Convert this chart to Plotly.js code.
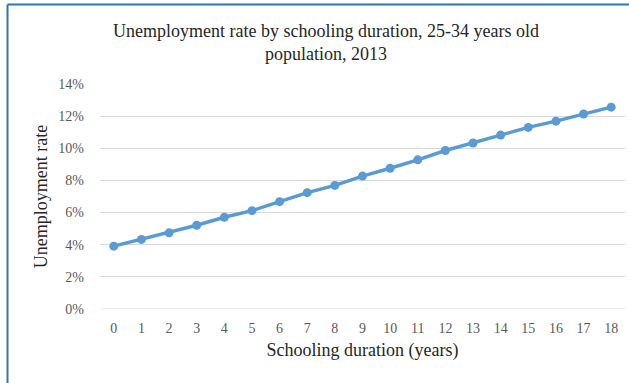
<!DOCTYPE html>
<html>
<head>
<meta charset="utf-8">
<script src="https://cdn.plot.ly/plotly-3.0.1.min.js"></script>
<style>
  html, body { margin: 0; padding: 0; background: #ffffff; }
  #chart { width: 629px; height: 383px; }
</style>
</head>
<body>
<div id="chart"></div>
<script>
// Schooling duration (years)
const years = [0, 1, 2, 3, 4, 5, 6, 7, 8, 9, 10, 11, 12, 13, 14, 15, 16, 17, 18];
// Unemployment rate (%), 25-34 years old population, 2013
const unemploymentRate = [3.91, 4.33, 4.74, 5.21, 5.71, 6.12, 6.68, 7.24, 7.69, 8.27, 8.76, 9.28, 9.86, 10.33, 10.82, 11.30, 11.69, 12.13, 12.56];
const yTickVals = [0, 2, 4, 6, 8, 10, 12, 14];
const yTickText = ['0%', '2%', '4%', '6%', '8%', '10%', '12%', '14%'];

const serif = '"Liberation Serif", "Times New Roman", serif';

const trace = {
  x: years,
  y: unemploymentRate,
  type: 'scatter',
  mode: 'lines+markers',
  line: { color: '#5B9BD5', width: 3.5 },
  marker: { color: '#5B9BD5', size: 9 },
  hoverinfo: 'x+y'
};

const L = 100, R = 4, T = 84, B = 74;
const W = 629, H = 383;
const pw = W - L - R, ph = H - T - B;
function px2x(px) { return (px - L) / pw; }
function py2y(py) { return (H - B - py) / ph; }

const layout = {
  width: W,
  height: H,
  margin: { l: L, r: R, t: T, b: B },
  paper_bgcolor: '#ffffff',
  plot_bgcolor: '#ffffff',
  showlegend: false,
  font: { family: serif, color: '#595959', size: 14 },
  title: {
    text: 'Unemployment rate by schooling duration, 25-34 years old<br>population, 2013',
    font: { family: serif, size: 18, color: '#262626' },
    x: 326 / W,
    xanchor: 'center',
    xref: 'container',
    y: 1 - 37 / H,
    yref: 'container',
    yanchor: 'top'
  },
  xaxis: {
    type: 'linear',
    range: [-0.5, 18.5],
    tickvals: years,
    ticktext: years.map(String),
    showgrid: false,
    zeroline: false,
    showline: false,
    ticks: '',
    ticklabelstandoff: 9,
    tickfont: { family: serif, size: 14, color: '#595959' },
    fixedrange: true,
    title: {
      text: 'Schooling duration (years)',
      font: { family: serif, size: 18, color: '#262626' },
      standoff: 8
    }
  },
  yaxis: {
    range: [0, 14],
    tickvals: yTickVals,
    ticktext: yTickText,
    showgrid: true,
    gridcolor: '#D9D9D9',
    gridwidth: 1,
    zeroline: false,
    showline: false,
    ticks: '',
    ticklabelstandoff: 15,
    tickfont: { family: serif, size: 14, color: '#595959' },
    fixedrange: true,
    title: {
      text: 'Unemployment rate',
      font: { family: serif, size: 18, color: '#262626' },
      standoff: 6
    }
  },
  shapes: [
    { type: 'line', xref: 'paper', yref: 'paper', x0: px2x(7.5), x1: px2x(7.5), y0: py2y(4.5), y1: py2y(383), line: { color: '#2E75B6', width: 2 } },
    { type: 'line', xref: 'paper', yref: 'paper', x0: px2x(7.5), x1: px2x(629), y0: py2y(4.5), y1: py2y(4.5), line: { color: '#2E75B6', width: 2 } },
    { type: 'line', xref: 'paper', yref: 'y', x0: 0, x1: 1, y0: 0, y1: 0, line: { color: '#D9D9D9', width: 1 }, layer: 'below' }
  ]
};

Plotly.newPlot('chart', [trace], layout, { displayModeBar: false });
</script>
</body>
</html>
